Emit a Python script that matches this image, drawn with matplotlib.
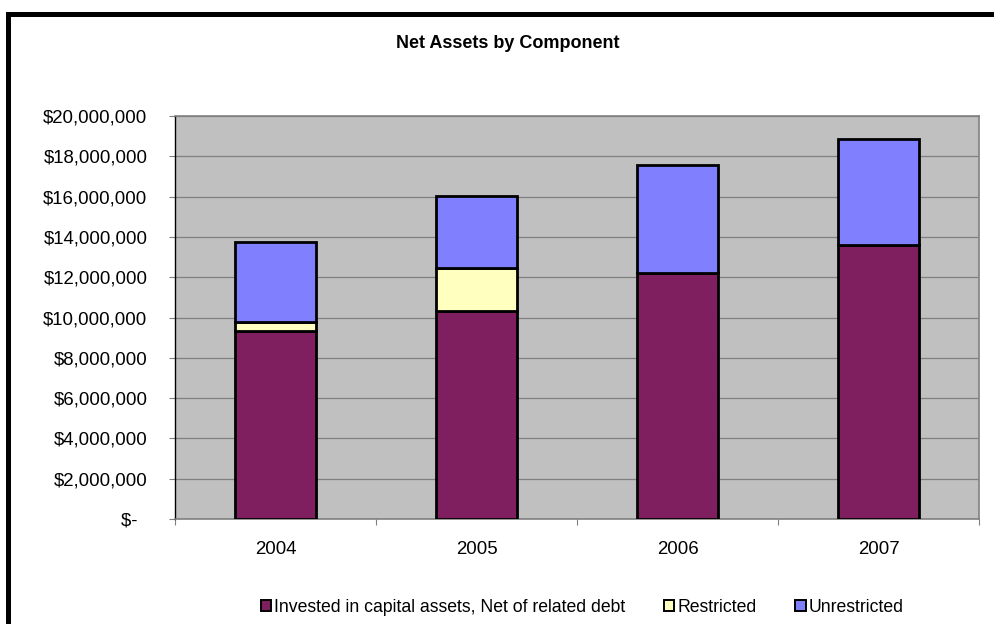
import matplotlib
matplotlib.use("Agg")
import matplotlib.pyplot as plt
from matplotlib.patches import Rectangle, Patch

plt.rcParams["font.family"] = ["Liberation Sans", "DejaVu Sans"]

# net assets by year, in dollars
years = ["2004", "2005", "2006", "2007"]
invested = [9350000, 10310000, 12190000, 13580000]
restricted = [440000, 2130000, 0, 0]
unrestricted = [3970000, 3570000, 5390000, 5260000]

series_names = ["Invested in capital assets, Net of related debt", "Restricted", "Unrestricted"]
series_colors = ["#7F1F5F", "#FFFFC0", "#8080FF"]

y_ticks = list(range(0, 20000001, 2000000))
y_labels = ["$-  "] + ["${:,}".format(v) for v in y_ticks[1:]]

W, H = 994, 624
fig = plt.figure(figsize=(W / 100, H / 100), dpi=100)
ax = fig.add_axes([175 / W, 1 - 519 / H, (979 - 175) / W, (519 - 116) / H])
ax.set_facecolor("#C0C0C0")

x = list(range(len(years)))
bottoms = [0] * len(years)
for vals, color in zip([invested, restricted, unrestricted], series_colors):
    ax.bar(x, vals, width=0.4, bottom=bottoms, color=color,
           edgecolor="black", linewidth=2.0, zorder=3)
    bottoms = [b + v for b, v in zip(bottoms, vals)]

ax.set_xlim(-0.5, len(years) - 0.5)
ax.set_ylim(0, 20000000)

ax.set_yticks(y_ticks)
ax.set_yticklabels(y_labels, fontsize=13.4)
ax.tick_params(axis="y", length=4.3, width=0.8, color="#808080", pad=15.5)
ax.yaxis.grid(True, color="#808080", linewidth=0.9, zorder=1)
ax.set_axisbelow(True)

# major ticks at category boundaries, labels on minor ticks at centres
ax.set_xticks([i - 0.5 for i in range(len(years) + 1)])
ax.set_xticklabels([])
ax.set_xticks(x, minor=True)
ax.set_xticklabels(years, minor=True, fontsize=13.4)
ax.tick_params(axis="x", which="major", length=4, width=0.8, color="#808080")
ax.tick_params(axis="x", which="minor", length=0, pad=16)

for side in ["top", "right", "bottom"]:
    ax.spines[side].set_color("#808080")
    ax.spines[side].set_linewidth(1.2)
ax.spines["left"].set_color("black")
ax.spines["left"].set_linewidth(1.0)

fig.text(0.5 * (395 + 620) / W, 1 - 44 / H, "Net Assets by Component",
         ha="center", va="center", fontsize=13, fontweight="bold")

handles = [Patch(facecolor=c, edgecolor="black", linewidth=1.4) for c in series_colors]
fig.legend(handles, series_names, loc="center", ncol=3,
           bbox_to_anchor=(582 / W, 1 - 607 / H), frameon=False,
           fontsize=12.7, handlelength=0.6, handleheight=0.6,
           handletextpad=0.15, columnspacing=2.2)

# thick outer border, running off the right and bottom edges
fig.patches.append(Rectangle((7.5 / W, -0.1), 1.2, 1 - 14 / H + 0.1,
                             transform=fig.transFigure, fill=False,
                             edgecolor="black", linewidth=3.6))

fig.savefig("out.png", dpi=100)
